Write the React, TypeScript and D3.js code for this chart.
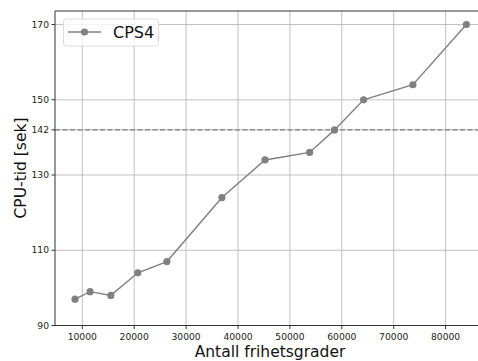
import React from "react";
import * as d3 from "d3";

// Degrees of freedom and CPU time for CPS4
const dofs = [8600, 11500, 15500, 20700, 26300, 36900, 45200, 53800, 58600, 64200, 73700, 84000];
const cpuTimes = [97, 99, 98, 104, 107, 124, 134, 136, 142, 150, 154, 170];
const xTicks = [10000, 20000, 30000, 40000, 50000, 60000, 70000, 80000];
const yTicks = [90, 110, 130, 142, 150, 170];
const referenceTime = 142;
const seriesName = "CPS4";

const W = 478;
const H = 361;
const margin = { left: 55, top: 11, right: 0, bottom: 36 };

export default function App() {
  const x = d3.scaleLinear().domain([4740, 86240]).range([margin.left, W - margin.right]);
  const y = d3.scaleLinear().domain([90, 173.6]).range([H - margin.bottom + 0.5, margin.top]);
  const line = d3
    .line<number>()
    .x((_, i) => x(dofs[i]))
    .y((d) => y(d));
  const font = "'DejaVu Sans', sans-serif";
  const grey = "#808080";
  const bottom = y(90);

  return (
    <svg
      width={W}
      height={H}
      style={{ position: "absolute", left: 0, top: 0, background: "#fff" }}
      fontFamily={font}
    >
      {/* grid */}
      {xTicks.map((t) => (
        <line key={"gx" + t} x1={x(t)} x2={x(t)} y1={margin.top} y2={bottom} stroke="#b0b0b0" strokeOpacity={0.8} strokeWidth={1} />
      ))}
      {yTicks.map((t) => (
        <line key={"gy" + t} x1={margin.left} x2={W} y1={y(t)} y2={y(t)} stroke="#b0b0b0" strokeOpacity={0.8} strokeWidth={1} />
      ))}

      {/* reference line */}
      <line x1={margin.left} x2={W} y1={y(referenceTime)} y2={y(referenceTime)} stroke={grey} strokeWidth={1.3} strokeDasharray="5,2.5" />

      {/* series */}
      <path d={line(cpuTimes) || ""} fill="none" stroke={grey} strokeWidth={1.4} />
      {cpuTimes.map((v, i) => (
        <circle key={"p" + i} cx={x(dofs[i])} cy={y(v)} r={3.6} fill={grey} />
      ))}

      {/* spines */}
      <line x1={margin.left} x2={margin.left} y1={margin.top} y2={bottom} stroke="#333" strokeWidth={1} />
      <line x1={margin.left} x2={W} y1={bottom} y2={bottom} stroke="#333" strokeWidth={1} />
      <line x1={margin.left} x2={W} y1={margin.top} y2={margin.top} stroke="#333" strokeWidth={1} />

      {/* x ticks */}
      {xTicks.map((t) => (
        <g key={"xt" + t}>
          <line x1={x(t)} x2={x(t)} y1={bottom} y2={bottom + 3.5} stroke="#333" />
          <text x={x(t)} y={bottom + 14} textAnchor="middle" fontSize={9.2} fill="#222">
            {t}
          </text>
        </g>
      ))}
      {/* y ticks */}
      {yTicks.map((t) => (
        <g key={"yt" + t}>
          <line x1={margin.left - 3.5} x2={margin.left} y1={y(t)} y2={y(t)} stroke="#333" />
          <text x={margin.left - 6} y={y(t)} dy="0.35em" textAnchor="end" fontSize={9.2} fill="#222">
            {t}
          </text>
        </g>
      ))}

      {/* axis labels */}
      <text x={270} y={357} textAnchor="middle" fontSize={15.5} fill="#111">
        Antall frihetsgrader
      </text>
      <text transform="translate(26,168) rotate(-90)" textAnchor="middle" fontSize={15.5} fill="#111">
        CPU-tid [sek]
      </text>

      {/* legend */}
      <g>
        <rect x={63.5} y={19} width={95} height={27} rx={3} fill="#fff" fillOpacity={0.8} stroke="#ddd" />
        <line x1={68} x2={101} y1={32} y2={32} stroke={grey} strokeWidth={1.4} />
        <circle cx={84.5} cy={32} r={3.6} fill={grey} />
        <text x={113} y={38} fontSize={16} fill="#111">
          {seriesName}
        </text>
      </g>
    </svg>
  );
}
